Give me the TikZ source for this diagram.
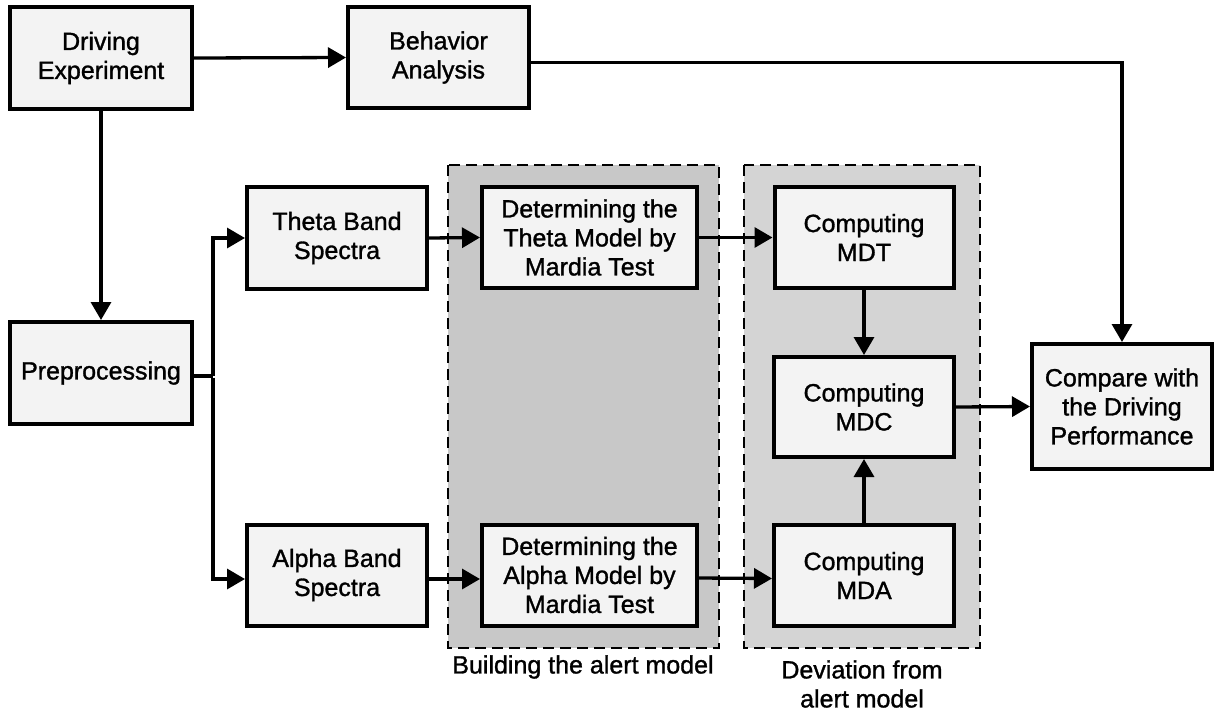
\documentclass[tikz,border=0pt]{standalone}
\usepackage{fontspec}
\setmainfont{Liberation Sans}[BoldFont={Liberation Sans}, BoldFeatures={FakeBold=1.2}]
\usetikzlibrary{arrows.meta}
\definecolor{boxfill}{RGB}{243,243,243}
\definecolor{regionA}{RGB}{200,200,200}
\definecolor{regionB}{RGB}{212,212,212}
\tikzset{
  txt/.style={font=\fontsize{25}{29}\selectfont\bfseries},
  blk/.style={draw=black, fill=boxfill, line width=4pt, inner sep=0pt,
    align=center, txt},
  conn/.style={line width=3.3pt},
  arr/.style={conn, -{Triangle[length=18pt,width=20pt]}},
  region/.style={line width=2.8pt, dash pattern=on 11pt off 6pt},
  stagelabel/.style={align=center, txt}
}
\begin{document}
\begin{tikzpicture}[x=1pt, y=-1pt]
\useasboundingbox (0,0) rectangle (1219,713);

% shaded stages
\path[region, fill=regionA, draw=black] (448,165) rectangle (719,648);
\path[region, fill=regionB, draw=black] (744,165) rectangle (980,648);
\node[stagelabel] (capA) at (583,667) {Building the alert model};
\node[stagelabel] (capB) at (862,684) {Deviation from\\alert model};

% blocks
\node[blk, minimum width=182pt, minimum height=102pt] (exp) at (101,58) {Driving\\Experiment};
\node[blk, minimum width=181pt, minimum height=101pt] (beh) at (438.5,57.5) {Behavior\\Analysis};
\node[blk, minimum width=182pt, minimum height=102pt] (pre) at (101,373) {Preprocessing};
\node[blk, minimum width=180pt, minimum height=102pt] (theta) at (337,238) {Theta Band\\Spectra};
\node[blk, minimum width=180pt, minimum height=101pt] (alpha) at (337,575) {Alpha Band\\Spectra};
\node[blk, minimum width=215pt, minimum height=101pt] (dtheta) at (589.5,237.5) {Determining the\\Theta Model by\\Mardia Test};
\node[blk, minimum width=215pt, minimum height=101pt] (dalpha) at (589.5,575) {Determining the\\Alpha Model by\\Mardia Test};
\node[blk, minimum width=179pt, minimum height=101pt] (mdt) at (864,237.5) {Computing\\MDT};
\node[blk, minimum width=180pt, minimum height=100pt] (mdc) at (864,407) {Computing\\MDC};
\node[blk, minimum width=180pt, minimum height=101pt] (mda) at (864,575.5) {Computing\\MDA};
\node[blk, minimum width=180pt, minimum height=125pt] (cmp) at (1122,406.5) {Compare with\\the Driving\\Performance};

% connectors
\coordinate (split) at (213,376);
\draw[arr] (exp.east) -- (beh.west);
\draw[arr] ([yshift=-5pt]beh.east) -| (cmp.north);
\draw[arr] (exp.south) -- (pre.north);
\draw[conn] (pre.east |- split) -- (split);
\draw[arr] (split) |- (theta.west);
\draw[arr] ([yshift=-1.6pt]split) |- ([yshift=-4pt]alpha.west);
\draw[arr] (theta.east) -- (dtheta.west);
\draw[arr] ([yshift=-4pt]alpha.east) -- ([yshift=-4pt]dalpha.west);
\draw[arr] (dtheta.east) -- (mdt.west);
\draw[arr] ([yshift=-3pt]dalpha.east) -- ([yshift=-3pt]mda.west);
\draw[arr] (mdt.south) -- (mdc.north);
\draw[arr] (mda.north) -- (mdc.south);
\draw[arr] (mdc.east) -- (cmp.west);
\end{tikzpicture}
\end{document}
